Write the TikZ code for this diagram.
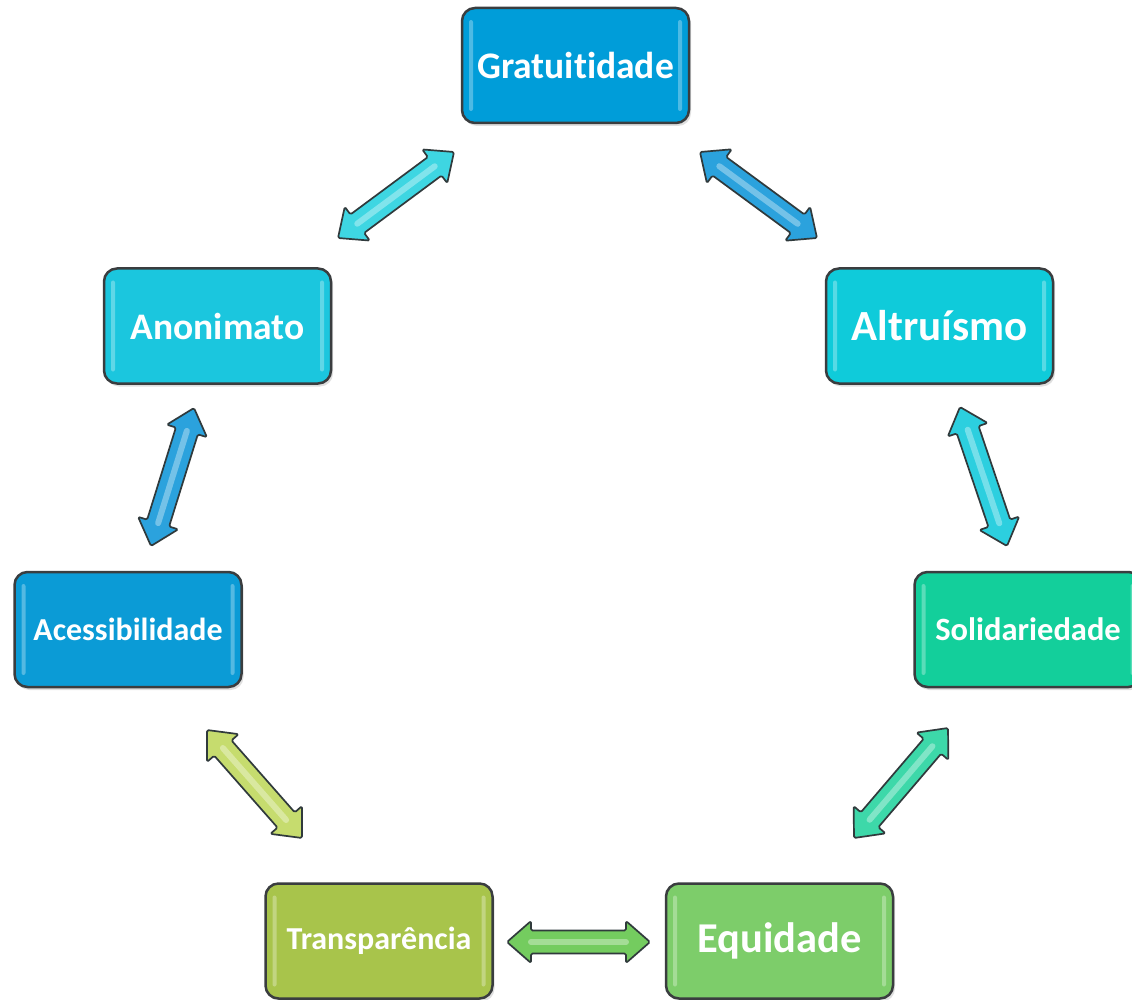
\documentclass[tikz,border=0pt]{standalone}
\usepackage{fontspec}
\setmainfont{Carlito}[Ligatures={NoCommon}]
\usetikzlibrary{calc,shadows}
\definecolor{boxedge}{HTML}{3A3D3F}
\definecolor{arredge}{HTML}{303A3C}
\definecolor{cGrat}{HTML}{009DD9}
\definecolor{cAnon}{HTML}{1BC6DE}
\definecolor{cAltr}{HTML}{0FCBDA}
\definecolor{cAces}{HTML}{0B9BD6}
\definecolor{cSoli}{HTML}{13CF9B}
\definecolor{cTran}{HTML}{A8C44B}
\definecolor{cEqui}{HTML}{7DCD6A}
\definecolor{aCyanL}{HTML}{3ED6E2}
\definecolor{aBlue}{HTML}{2BA2DD}
\definecolor{aCyan}{HTML}{2CCFDF}
\definecolor{aYel}{HTML}{C6DC6E}
\definecolor{aTeal}{HTML}{3DD8A9}
\definecolor{aGreen}{HTML}{74CC5F}
\def\ahl{24pt}
\def\ahw{21pt}
\def\asw{11.5pt}
\tikzset{
  box/.style={draw=boxedge, line width=2.5pt, rounded corners=13pt,
    minimum width=227pt, minimum height=115pt, inner sep=0pt, text=white,
    font=\bfseries,
    drop shadow={shadow xshift=2pt, shadow yshift=-3pt, opacity=0.25},
    path picture={
      \fill[white, opacity=0.3, rounded corners=2pt]
        ([xshift=7pt,yshift=-12pt]path picture bounding box.north west) rectangle
        ([xshift=11pt,yshift=12pt]path picture bounding box.south west);
      \fill[white, opacity=0.3, rounded corners=2pt]
        ([xshift=-7pt,yshift=-12pt]path picture bounding box.north east) rectangle
        ([xshift=-11pt,yshift=12pt]path picture bounding box.south east);
    }},
  arr/.style={draw=arredge, line width=1.7pt, line join=round, rounded corners=1.5pt},
  gloss/.style={white, opacity=0.35, line width=6pt, line cap=round}
}
\newcommand{\dblarrow}[3]{%
  \draw[arr, fill=#3] (#1)
    -- ($(#1)!\ahl!(#2)!\ahw!90:(#2)$)
    -- ($(#1)!\ahl!(#2)!\asw!90:(#2)$)
    -- ($(#2)!\ahl!(#1)!\asw!-90:(#1)$)
    -- ($(#2)!\ahl!(#1)!\ahw!-90:(#1)$)
    -- (#2)
    -- ($(#2)!\ahl!(#1)!\ahw!90:(#1)$)
    -- ($(#2)!\ahl!(#1)!\asw!90:(#1)$)
    -- ($(#1)!\ahl!(#2)!\asw!-90:(#2)$)
    -- ($(#1)!\ahl!(#2)!\ahw!-90:(#2)$)
    -- cycle;
  \draw[gloss] ($(#1)!\ahl!(#2)$) -- ($(#2)!\ahl!(#1)$);
}
\begin{document}
\begin{tikzpicture}[x=1pt, y=-1pt]
\useasboundingbox (0,0) rectangle (1132,1000);
\fill[white] (0,0) rectangle (1132,1000);
% boxes
\node[box, fill=cGrat, font=\bfseries\fontsize{37.5}{41}\selectfont] (grat) at (575.5,65.5) {Gratuitidade};
\node[box, fill=cAnon, font=\bfseries\fontsize{37.5}{41}\selectfont] (anon) at (217.5,326) {Anonimato};
\node[box, fill=cAltr, font=\bfseries\fontsize{43}{47}\selectfont] (altr) at (939.5,326) {Altruísmo};
\node[box, fill=cAces, font=\bfseries\fontsize{32}{36}\selectfont] (aces) at (128,629.5) {Acessibilidade};
\node[box, fill=cSoli, font=\bfseries\fontsize{32.5}{36}\selectfont] (soli) at (1028,629.5) {Solidariedade};
\node[box, fill=cTran, font=\bfseries\fontsize{32}{36}\selectfont] (tran) at (379,941) {Transparência};
\node[box, fill=cEqui, font=\bfseries\fontsize{42.5}{46}\selectfont] (equi) at (779.5,941) {Equidade};
% arrow end points
\coordinate (a1s) at (454,152);
\coordinate (a1e) at (338,238);
\coordinate (a2s) at (700,152);
\coordinate (a2e) at (817,238);
\coordinate (a3s) at (194,408);
\coordinate (a3e) at (151,546);
\coordinate (a4s) at (960,407);
\coordinate (a4e) at (1007,546);
\coordinate (a5s) at (207,730);
\coordinate (a5e) at (302,838);
\coordinate (a6s) at (948,728);
\coordinate (a6e) at (854,838);
\coordinate (a7s) at (507,942);
\coordinate (a7e) at (650,942);
\dblarrow{a1s}{a1e}{aCyanL}
\dblarrow{a2s}{a2e}{aBlue}
\dblarrow{a3s}{a3e}{aBlue}
\dblarrow{a4s}{a4e}{aCyan}
\dblarrow{a5s}{a5e}{aYel}
\dblarrow{a6s}{a6e}{aTeal}
\dblarrow{a7s}{a7e}{aGreen}
\end{tikzpicture}
\end{document}
